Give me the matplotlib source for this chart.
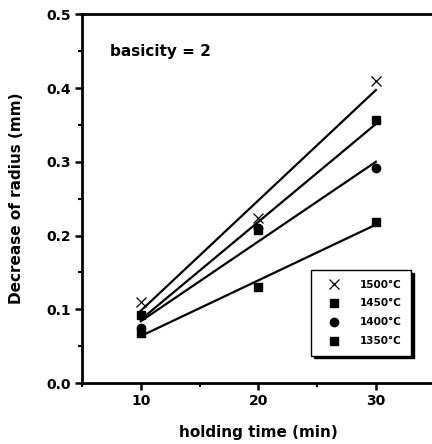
import numpy as np
import matplotlib
matplotlib.use("Agg")
import matplotlib.pyplot as plt
from matplotlib.ticker import MultipleLocator

plt.rcParams['font.family'] = ['DejaVu Sans']
plt.rcParams['font.weight'] = 'bold'

time = [10, 20, 30]
labels = ['1500°C', '1450°C', '1400°C', '1350°C']
y1500 = [0.110, 0.224, 0.409]
y1450 = [0.092, 0.207, 0.357]
y1400 = [0.075, 0.210, 0.291]
y1350 = [0.068, 0.131, 0.219]
series = [y1500, y1450, y1400, y1350]
markers = ['x', 's', 'o', 's']

fig = plt.figure(figsize=(4.32, 4.44), dpi=100)
ax = fig.add_axes([0.19, 0.137, 0.816, 0.831])

t = np.array(time, dtype=float)
for ys, m, lab in zip(series, markers, labels):
    ys = np.array(ys)
    if m == 'x':
        ax.plot(t, ys, linestyle='none', marker='x', ms=7, mew=0.9, color='black', label=lab)
    else:
        ax.plot(t, ys, linestyle='none', marker=m, ms=6, color='black', label=lab)
    k, b = np.polyfit(t, ys, 1)
    ax.plot(t, k * t + b, color='black', lw=1.6)

ax.set_xlim(5, 35)
ax.set_ylim(0, 0.5)
ax.xaxis.set_major_locator(MultipleLocator(10))
ax.xaxis.set_minor_locator(MultipleLocator(5))
ax.yaxis.set_major_locator(MultipleLocator(0.1))
ax.yaxis.set_minor_locator(MultipleLocator(0.05))
ax.yaxis.set_major_formatter(matplotlib.ticker.FormatStrFormatter('%.1f'))
ax.tick_params(which='major', direction='out', length=5, width=1.8, labelsize=10, pad=3)
ax.tick_params(which='minor', direction='out', length=3, width=1.5)
for lbl in ax.get_xticklabels() + ax.get_yticklabels():
    lbl.set_fontweight('bold')

for s in ['left', 'bottom', 'top', 'right']:
    ax.spines[s].set_linewidth(2)

ax.set_xlabel('holding time (min)', fontsize=11, fontweight='bold', labelpad=12)
ax.set_ylabel('Decrease of radius (mm)', fontsize=11, fontweight='bold', labelpad=16)

ax.text(0.08, 0.9, 'basicity = 2', transform=ax.transAxes, fontsize=11, fontweight='bold',
        va='center', ha='left')

leg = ax.legend(loc='upper left', bbox_to_anchor=(0.65, 0.306), borderaxespad=0,
                fancybox=False, edgecolor='black', framealpha=1,
                shadow={'color': 'black', 'alpha': 1},
                prop={'size': 7.5, 'weight': 'bold'}, handletextpad=1.2, borderpad=0.9,
                labelspacing=0.85, handlelength=2.6)
leg.get_frame().set_linewidth(1.0)

fig.savefig('out.png', dpi=100)
